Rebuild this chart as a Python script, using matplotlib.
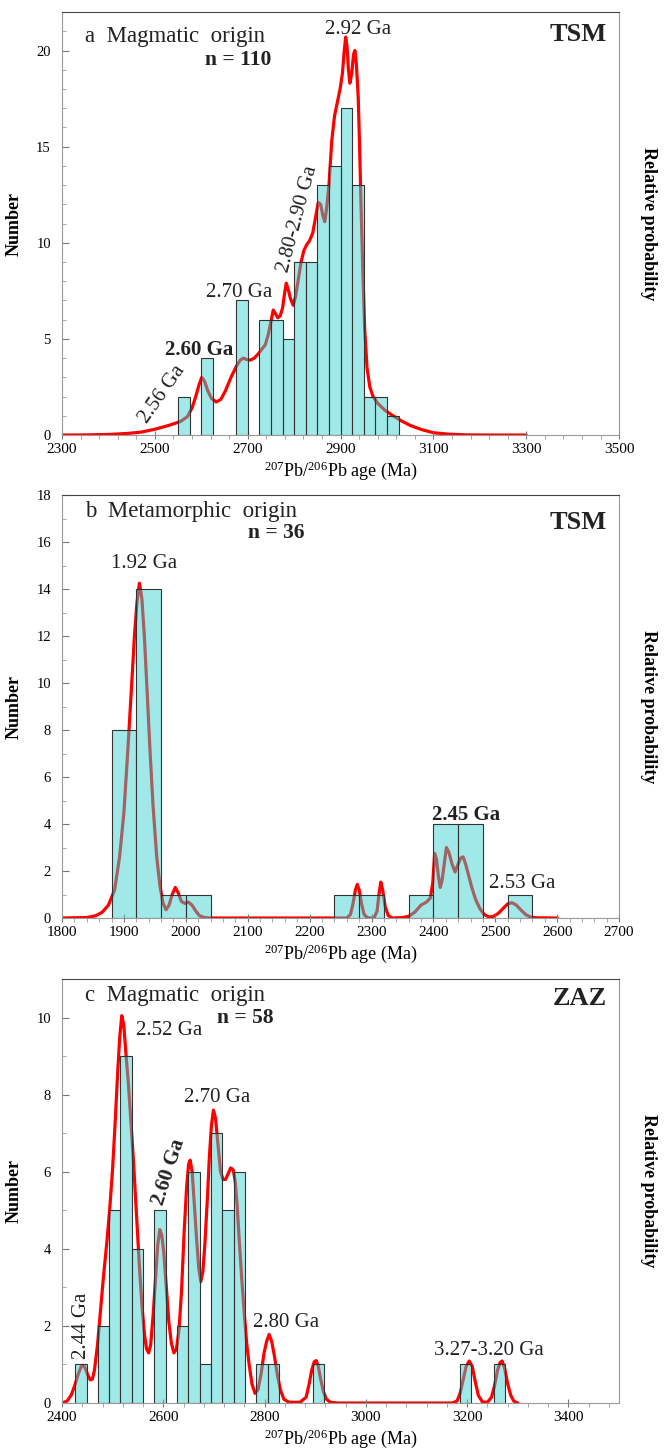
import matplotlib
matplotlib.use('Agg')
import matplotlib.pyplot as plt
from matplotlib.ticker import MultipleLocator

plt.rcParams['font.family'] = ['Liberation Serif', 'DejaVu Serif']
plt.rcParams['mathtext.fontset'] = 'custom'
plt.rcParams['mathtext.rm'] = 'Liberation Serif'

# ---- panel a: TSM magmatic zircons ----
a_bin_left = [2550, 2600, 2675, 2725, 2750, 2775, 2800, 2825, 2850, 2875, 2900, 2925, 2950, 2975, 3000]
a_counts = [2, 4, 7, 6, 6, 5, 9, 9, 13, 14, 17, 13, 2, 2, 1]
a_bin_width = 25
a_curve_age = [2300, 2350, 2400, 2440, 2470, 2500, 2530, 2555, 2570, 2580, 2588, 2595, 2601, 2607,
               2614, 2622, 2632, 2642, 2652, 2664, 2676, 2684, 2691, 2698, 2706, 2714, 2722, 2730,
               2738, 2744, 2750, 2755, 2760, 2765, 2770, 2775, 2779, 2783, 2787, 2792, 2798, 2803,
               2809, 2815, 2821, 2827, 2833, 2840, 2846, 2852, 2857, 2862, 2866, 2870, 2875, 2881,
               2887, 2893, 2899, 2904, 2908, 2911, 2914, 2917, 2920, 2924, 2928, 2931, 2934, 2938,
               2941, 2944, 2948, 2952, 2957, 2963, 2970, 2980, 2995, 3010, 3030, 3050, 3075, 3100,
               3130, 3170, 3220, 3300]
a_curve_val = [0, 0.005, 0.03, 0.08, 0.15, 0.3, 0.5, 0.7, 0.95, 1.4, 2.0, 2.6, 3.0, 2.8,
               2.3, 1.9, 1.72, 1.85, 2.3, 3.0, 3.6, 3.9, 4.0, 3.92, 3.9, 4.0, 4.2, 4.45,
               4.7, 5.2, 5.9, 6.5, 6.3, 6.1, 6.2, 6.6, 7.3, 7.9, 7.6, 7.1, 6.75, 7.2,
               8.1, 9.0, 9.6, 9.9, 10.1, 10.5, 11.3, 12.1, 12.0, 11.4, 11.1, 11.8, 13.0, 15.3,
               16.6, 17.3, 18.0, 18.8, 20.0, 20.7, 20.2, 19.0, 18.3, 18.8, 19.8, 20.0, 19.3, 17.6,
               15.0, 12.0, 8.5, 5.5, 3.5, 2.5, 2.0, 1.65, 1.3, 1.05, 0.75, 0.5, 0.28, 0.12,
               0.05, 0.01, 0.0, 0.0]

# ---- panel b: TSM metamorphic zircons ----
b_bin_left = [1880, 1920, 1960, 2000, 2240, 2280, 2360, 2400, 2440, 2520]
b_counts = [8, 14, 1, 1, 1, 1, 1, 4, 4, 1]
b_bin_width = 40
b_curve_age = [1800, 1840, 1855, 1865, 1875, 1885, 1893, 1900, 1906, 1912, 1917, 1921, 1925, 1929,
               1933, 1937, 1942, 1947, 1953, 1958, 1963, 1968, 1973, 1978, 1983, 1988, 1993, 1999,
               2004, 2010, 2016, 2022, 2030, 2040, 2260, 2266, 2270, 2274, 2277, 2280, 2284, 2288,
               2294, 2304, 2309, 2312, 2315, 2318, 2322, 2327, 2334, 2350, 2360, 2370, 2380, 2389,
               2395, 2399, 2402, 2405, 2408, 2411, 2414, 2418, 2421, 2425, 2430, 2435, 2440, 2444,
               2448, 2452, 2457, 2462, 2468, 2475, 2482, 2490, 2497, 2505, 2513, 2520, 2527, 2534,
               2541, 2549, 2556, 2565, 2600]
b_curve_val = [0, 0.02, 0.1, 0.25, 0.55, 1.2, 2.6, 4.5, 7.0, 9.7, 12.0, 13.4, 14.25, 13.6,
               12.0, 9.9, 7.2, 4.8, 2.6, 1.4, 0.65, 0.35, 0.55, 1.0, 1.3, 1.05, 0.7, 0.62,
               0.68, 0.55, 0.3, 0.1, 0.02, 0, 0, 0.15, 0.6, 1.2, 1.43, 1.2, 0.6, 0.15,
               0, 0, 0.3, 1.0, 1.53, 1.2, 0.5, 0.1, 0, 0.02, 0.07, 0.25, 0.55, 0.68,
               0.85, 1.5, 2.75, 2.5, 1.8, 1.3, 1.6, 2.4, 3.0, 2.8, 2.3, 1.96, 2.3, 2.55,
               2.6, 2.3, 1.8, 1.3, 0.8, 0.4, 0.15, 0.04, 0.07, 0.2, 0.42, 0.6, 0.65, 0.55,
               0.35, 0.15, 0.05, 0.01, 0]

# ---- panel c: ZAZ magmatic zircons ----
c_bin_left = [2426.0, 2470.7, 2493.05, 2515.4, 2537.75, 2582.45, 2627.15, 2649.5, 2671.85,
              2694.2, 2716.55, 2738.9, 2783.6, 2805.95, 2895.35, 3185.9, 3252.95]
c_counts = [1, 2, 5, 9, 4, 5, 2, 6, 1, 7, 5, 6, 1, 1, 1, 1, 1]
c_bin_width = 22.35
c_curve_age = [2400, 2410, 2418, 2425, 2432, 2438, 2442, 2446, 2451, 2456, 2460, 2464, 2470, 2476,
               2482, 2488, 2494, 2500, 2505, 2510, 2514, 2518, 2522, 2526, 2531, 2536, 2541, 2547,
               2553, 2558, 2563, 2567, 2571, 2575, 2580, 2585, 2589, 2593, 2597, 2601, 2606, 2611,
               2616, 2621, 2626, 2631, 2636, 2641, 2646, 2650, 2653, 2657, 2661, 2666, 2670, 2674,
               2678, 2682, 2687, 2691, 2695, 2699, 2703, 2708, 2713, 2718, 2723, 2728, 2733, 2738,
               2742, 2746, 2750, 2755, 2760, 2765, 2770, 2775, 2781, 2787, 2793, 2799, 2804, 2809,
               2814, 2819, 2825, 2831, 2838, 2848, 2870, 2882, 2888, 2893, 2898, 2902, 2906, 2911,
               2916, 2922, 2930, 2945, 3170, 3180, 3186, 3192, 3198, 3204, 3210, 3216, 3222, 3230,
               3240, 3248, 3254, 3260, 3265, 3269, 3274, 3280, 3286, 3292, 3300]
c_curve_val = [0, 0.05, 0.2, 0.45, 0.75, 0.95, 0.98, 0.9, 0.72, 0.6, 0.62, 0.85, 1.5, 2.4,
               3.3, 4.1, 5.0, 6.1, 7.3, 8.6, 9.5, 10.05, 9.8, 9.1, 8.3, 7.3, 6.3, 4.9,
               3.5, 2.5, 1.75, 1.4, 1.3, 1.5, 2.3, 3.3, 4.1, 4.5, 4.35, 3.9, 3.0, 2.1,
               1.55, 1.3, 1.4, 1.9, 2.9, 4.4, 5.6, 6.2, 6.3, 6.0, 5.2, 4.2, 3.5, 3.15,
               3.4, 4.1, 5.3, 6.4, 7.2, 7.6, 7.4, 6.7, 6.0, 5.8, 5.8, 5.95, 6.1, 6.05,
               5.75, 5.1, 4.2, 3.2, 2.3, 1.5, 0.95, 0.5, 0.25, 0.35, 0.75, 1.3, 1.6, 1.78,
               1.6, 1.25, 0.75, 0.35, 0.1, 0.02, 0.02, 0.15, 0.5, 0.85, 1.07, 1.1, 0.95, 0.6,
               0.3, 0.1, 0.02, 0, 0, 0.05, 0.25, 0.6, 0.95, 1.09, 0.95, 0.55, 0.2, 0.03,
               0.02, 0.15, 0.45, 0.85, 1.05, 1.09, 0.9, 0.5, 0.2, 0.05, 0]

bar_face = (0.23, 0.82, 0.82, 0.48)
xlabel = r'$\mathregular{^{207}Pb/^{206}Pb}$ age (Ma)'

fig = plt.figure(figsize=(6.64, 14.53), dpi=100)
left, width = 0.0934, 0.839
axes = [fig.add_axes([left, 0.7006, width, 0.2911]),
        fig.add_axes([left, 0.3682, width, 0.2911]),
        fig.add_axes([left, 0.0344, width, 0.2918])]

# (bins, counts, width, curve x, curve y, xlim, ylim, major x step/offset, minor x step/offset,
#  y major step, title, n text, region, n x, n y, region y, title y)
panels = [
    (a_bin_left, a_counts, a_bin_width, a_curve_age, a_curve_val,
     (2300, 3500), (0, 22), (200, 100), (40, 20), 5,
     'a  Magmatic  origin', 'n = 110', 'TSM', 0.375, 0.887, 0.946, 0.943),
    (b_bin_left, b_counts, b_bin_width, b_curve_age, b_curve_val,
     (1800, 2700), (0, 18), (100, 0), (20, 0), 2,
     'b  Metamorphic  origin', 'n = 36', 'TSM', 0.435, 0.91, 0.934, 0.96),
    (c_bin_left, c_counts, c_bin_width, c_curve_age, c_curve_val,
     (2400, 3500), (0, 11), (200, 0), (40, 0), 2,
     'c  Magmatic  origin', 'n = 58', 'ZAZ', 0.379, 0.907, 0.953, 0.962),
]

for ax, p in zip(axes, panels):
    (lefts, counts, bw, cx, cy, xlim, ylim, xmaj, xmin, ymaj,
     title, ntxt, region, nx, ny, ry, ty) = p
    ax.plot(cx, cy, color='#ff0000', lw=2.3, zorder=1, solid_capstyle='round')
    ax.bar(lefts, counts, width=bw, align='edge', color=bar_face,
           edgecolor='#333333', linewidth=0.8, zorder=2)
    ax.set_xlim(*xlim)
    ax.set_ylim(*ylim)
    ax.xaxis.set_major_locator(MultipleLocator(xmaj[0], offset=xmaj[1]))
    ax.xaxis.set_minor_locator(MultipleLocator(xmin[0], offset=xmin[1]))
    ax.yaxis.set_major_locator(MultipleLocator(ymaj))
    ax.yaxis.set_minor_locator(MultipleLocator(1))
    ax.tick_params(axis='x', which='major', direction='inout', length=6, labelsize=11,
                   color='#777777', pad=3)
    ax.tick_params(axis='x', which='minor', direction='out', length=3, color='#999999')
    ax.tick_params(axis='y', which='major', direction='in', length=5, labelsize=10.5,
                   color='#777777', pad=8)
    ax.tick_params(axis='y', which='minor', direction='in', length=3, color='#999999')
    for s in ['left', 'right', 'bottom']:
        ax.spines[s].set_color('#999999')
    ax.spines['top'].set_color('#444444')
    ax.set_xlabel(xlabel, fontsize=13, labelpad=2)
    ax.set_ylabel('Number', fontsize=13, fontweight='bold', labelpad=10)
    ax.text(1.052, 0.5, 'Relative probability', transform=ax.transAxes, rotation=-90,
            fontsize=13, fontweight='bold', ha='center', va='center')
    ax.text(0.042, ty, title, transform=ax.transAxes,
            fontsize=16.5, ha='left', va='center', color='#222222')
    ax.text(nx, ny, ntxt, transform=ax.transAxes, fontsize=15.5, fontweight='bold',
            ha='right', va='center', color='#222222')
    ax.text(0.978, ry, region, transform=ax.transAxes, fontsize=19, fontweight='bold',
            ha='right', va='center', color='#222222')

ax_a, ax_b, ax_c = axes
ann = dict(fontsize=15, ha='center', va='center', color='#222222')

ax_a.text(2938, 21.1, '2.92 Ga', **ann)
ax_a.text(2807, 11.25, '2.80-2.90 Ga', rotation=75, **ann)
ax_a.text(2682, 7.4, '2.70 Ga', **ann)
ax_a.text(2595, 4.42, '2.60 Ga', fontweight='bold', **ann)
ax_a.text(2516, 2.1, '2.56 Ga', rotation=55, **ann)

ax_b.text(1932, 15.1, '1.92 Ga', **ann)
ax_b.text(2452, 4.4, '2.45 Ga', fontweight='bold', **ann)
ax_b.text(2543, 1.45, '2.53 Ga', **ann)

ax_c.text(2612, 9.67, '2.52 Ga', **ann)
ax_c.text(2707, 7.93, '2.70 Ga', **ann)
ax_c.text(2611, 6.0, '2.60 Ga', rotation=72, fontweight='bold', **ann)
ax_c.text(2438, 2.0, '2.44 Ga', rotation=90, **ann)
ax_c.text(2843, 2.09, '2.80 Ga', **ann)
ax_c.text(3243, 1.36, '3.27-3.20 Ga', **ann)

fig.savefig('out.png', dpi=100)
plt.close(fig)
